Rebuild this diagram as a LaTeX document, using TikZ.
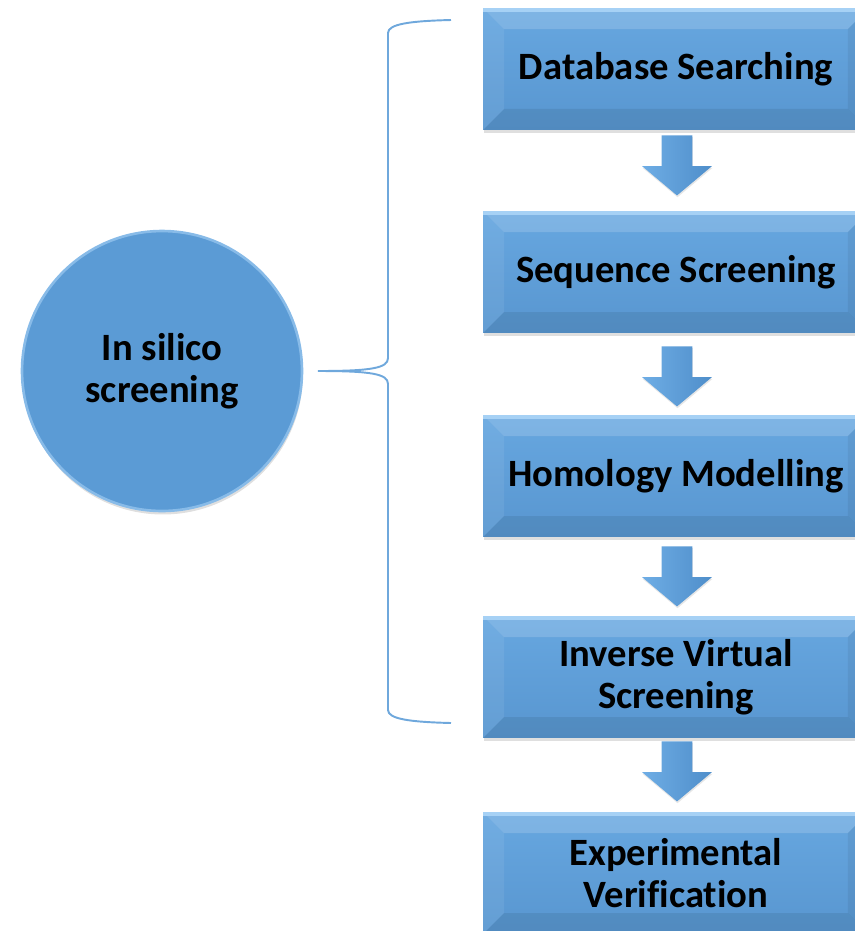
\documentclass[tikz,border=0pt]{standalone}
\usepackage{fontspec}
\setmainfont{Carlito}[Ligatures=NoCommon]
\usetikzlibrary{shapes.arrows,shadows}

\definecolor{facetop}{HTML}{67A7E0}
\definecolor{facebot}{HTML}{5896D0}
\definecolor{faceblue}{HTML}{5B9BD5}
\definecolor{rimblue}{HTML}{A6D1F5}
\definecolor{arrowlt}{HTML}{6EADE5}
\definecolor{arrowdk}{HTML}{4F8ECA}
\definecolor{bracecol}{HTML}{6FA8DC}

% bevel depth of the step boxes
\newcommand{\bev}{0.42cm}
\newcommand{\ppbb}{path picture bounding box}

\begin{document}
\begin{tikzpicture}[
  x=0.02cm, y=-0.02cm,
  font=\fontsize{22}{24}\selectfont\bfseries,
  stepbox/.style={top color=facetop, bottom color=facebot, draw=none, align=center, inner sep=0pt,
    minimum width=7.72cm, minimum height=2.44cm,
    drop shadow={opacity=0.25, shadow xshift=0.4pt, shadow yshift=-1.6pt},
    path picture={
      \fill[white, opacity=0.16] (\ppbb.north west) -- (\ppbb.north east)
        -- ([xshift=-\bev,yshift=-\bev]\ppbb.north east) -- ([xshift=\bev,yshift=-\bev]\ppbb.north west) -- cycle;
      \fill[white, opacity=0.07] (\ppbb.north west) -- ([xshift=\bev,yshift=-\bev]\ppbb.north west)
        -- ([xshift=\bev,yshift=\bev]\ppbb.south west) -- (\ppbb.south west) -- cycle;
      \fill[black, opacity=0.06] (\ppbb.north east) -- ([xshift=-\bev,yshift=-\bev]\ppbb.north east)
        -- ([xshift=-\bev,yshift=\bev]\ppbb.south east) -- (\ppbb.south east) -- cycle;
      \fill[black, opacity=0.08] (\ppbb.south west) -- ([xshift=\bev,yshift=\bev]\ppbb.south west)
        -- ([xshift=-\bev,yshift=\bev]\ppbb.south east) -- (\ppbb.south east) -- cycle;
      \fill[rimblue] (\ppbb.north west) rectangle ([yshift=-2.5pt]\ppbb.north east);
    }},
  flow/.style={single arrow, shape border rotate=270, draw=none, inner sep=0.3cm,
    minimum height=1.2cm, minimum width=1.38cm, single arrow head extend=0.39cm,
    single arrow tip angle=100, left color=arrowlt, right color=arrowdk,
    drop shadow={opacity=0.2, shadow xshift=0.3pt, shadow yshift=-1pt}},
  hub/.style={circle, fill=faceblue, draw=rimblue!60!faceblue, line width=1.5pt,
    minimum size=5.6cm, align=center, inner sep=0pt,
    drop shadow={opacity=0.25, shadow xshift=0.5pt, shadow yshift=-2pt}},
  brace/.style={draw=bracecol, line width=1.1pt}
]
\clip (0,0) rectangle (855,931);
\useasboundingbox (0,0) rectangle (855,931);

\node[hub] (insilico) at (162,371) {In silico\\screening};

\node[stepbox] (db) at (676,69) {Database Searching};
\node[stepbox] (seq) at (676,272) {Sequence Screening};
\node[stepbox] (hom) at (676,476) {Homology Modelling};
\node[stepbox] (ivs) at (676,677) {Inverse Virtual\\Screening};
\node[stepbox] (exp) at (676,873) {Experimental\\Verification};

\node[flow] (a1) at (677,159) {};
\node[flow] (a2) at (677,370) {};
\node[flow] (a3) at (677,570) {};
\node[flow] (a4) at (677,765) {};

% curly bracket grouping the in silico steps
\coordinate (brtop) at (451,20);
\coordinate (brbot) at (451,723);
\coordinate (brtip) at (318,371);
\draw[brace] (brtop) .. controls (410,21) and (388,24) .. (388,33)
  -- (388,358) .. controls (388,368) and (372,371) .. (brtip)
  .. controls (372,371) and (388,374) .. (388,384)
  -- (388,710) .. controls (388,719) and (410,722) .. (brbot);

\end{tikzpicture}
\end{document}
